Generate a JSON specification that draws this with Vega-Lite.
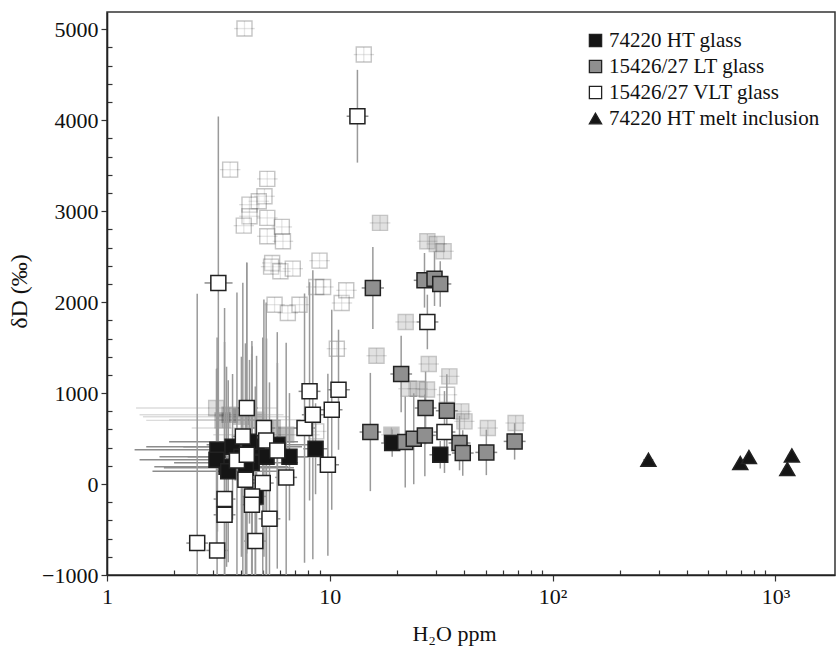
{
  "$schema": "https://vega.github.io/schema/vega-lite/v6.json",
  "width": 728,
  "height": 563,
  "autosize": {"type": "none"},
  "padding": {"left": 107, "top": 12, "right": 1, "bottom": 72},
  "background": "white",
  "config": {
    "view": {"stroke": "#333", "strokeWidth": 1.5},
    "font": "Liberation Serif"
  },
  "datasets": {
    "glass": [
      {"sample": "74220 HT glass", "set": "corrected", "h2o": 3.13, "dD": 377, "err": 900, "lo": 1.33, "hi": 6.0},
      {"sample": "74220 HT glass", "set": "corrected", "h2o": 3.44, "dD": 190, "err": 1100, "lo": 1.63, "hi": 6.5},
      {"sample": "74220 HT glass", "set": "corrected", "h2o": 3.66, "dD": 410, "err": 800, "lo": 1.5, "hi": 6.6},
      {"sample": "74220 HT glass", "set": "corrected", "h2o": 4.46, "dD": 234, "err": 1200, "lo": 2.0, "hi": 7.2},
      {"sample": "74220 HT glass", "set": "corrected", "h2o": 4.69, "dD": 410, "err": 1000, "lo": 2.2, "hi": 7.5},
      {"sample": "74220 HT glass", "set": "corrected", "h2o": 5.2, "dD": 300, "err": 1300, "lo": 2.3, "hi": 8.0},
      {"sample": "74220 HT glass", "set": "corrected", "h2o": 5.82, "dD": 432, "err": 900, "lo": 2.8, "hi": 8.6},
      {"sample": "74220 HT glass", "set": "corrected", "h2o": 6.59, "dD": 300, "err": 700, "lo": 3.5, "hi": 9.2},
      {"sample": "74220 HT glass", "set": "corrected", "h2o": 4.01, "dD": 300, "err": 1100, "lo": 1.72, "hi": 6.8},
      {"sample": "74220 HT glass", "set": "corrected", "h2o": 3.1, "dD": 267, "err": 1000, "lo": 1.4, "hi": 5.5},
      {"sample": "74220 HT glass", "set": "corrected", "h2o": 4.36, "dD": 465, "err": 900, "lo": 1.9, "hi": 7.2},
      {"sample": "74220 HT glass", "set": "corrected", "h2o": 3.5, "dD": 140, "err": 1000, "lo": 1.6, "hi": 6.2},
      {"sample": "74220 HT glass", "set": "corrected", "h2o": 4.2, "dD": 180, "err": 1100, "lo": 1.8, "hi": 6.9},
      {"sample": "74220 HT glass", "set": "corrected", "h2o": 8.63, "dD": 388, "err": 500, "lo": 7.6, "hi": 9.8},
      {"sample": "74220 HT glass", "set": "corrected", "h2o": 4.64, "dD": -136, "err": 1000, "lo": 4.15, "hi": 5.2},
      {"sample": "74220 HT glass", "set": "corrected", "h2o": 19.05, "dD": 451, "err": 150, "lo": 17.0, "hi": 21.3},
      {"sample": "74220 HT glass", "set": "corrected", "h2o": 31.3, "dD": 322, "err": 150, "lo": 28.0, "hi": 35.0},

      {"sample": "15426/27 LT glass", "set": "corrected", "h2o": 15.6, "dD": 2156, "err": 450, "lo": 13.9, "hi": 17.5},
      {"sample": "15426/27 LT glass", "set": "corrected", "h2o": 26.6, "dD": 2240, "err": 300, "lo": 23.8, "hi": 29.8},
      {"sample": "15426/27 LT glass", "set": "corrected", "h2o": 29.5, "dD": 2258, "err": 300, "lo": 26.3, "hi": 33.0},
      {"sample": "15426/27 LT glass", "set": "corrected", "h2o": 31.3, "dD": 2200, "err": 250, "lo": 27.9, "hi": 35.1},
      {"sample": "15426/27 LT glass", "set": "corrected", "h2o": 20.9, "dD": 1210, "err": 420, "lo": 18.7, "hi": 23.4},
      {"sample": "15426/27 LT glass", "set": "corrected", "h2o": 15.2, "dD": 572, "err": 650, "lo": 13.6, "hi": 17.0},
      {"sample": "15426/27 LT glass", "set": "corrected", "h2o": 26.9, "dD": 836, "err": 400, "lo": 24.0, "hi": 30.1},
      {"sample": "15426/27 LT glass", "set": "corrected", "h2o": 33.5, "dD": 806, "err": 400, "lo": 29.9, "hi": 37.5},
      {"sample": "15426/27 LT glass", "set": "corrected", "h2o": 21.8, "dD": 462, "err": 500, "lo": 19.5, "hi": 24.4},
      {"sample": "15426/27 LT glass", "set": "corrected", "h2o": 23.8, "dD": 498, "err": 500, "lo": 21.3, "hi": 26.7},
      {"sample": "15426/27 LT glass", "set": "corrected", "h2o": 26.7, "dD": 535, "err": 450, "lo": 23.8, "hi": 29.9},
      {"sample": "15426/27 LT glass", "set": "corrected", "h2o": 38.2, "dD": 451, "err": 300, "lo": 34.1, "hi": 42.8},
      {"sample": "15426/27 LT glass", "set": "corrected", "h2o": 39.5, "dD": 341, "err": 250, "lo": 35.3, "hi": 44.2},
      {"sample": "15426/27 LT glass", "set": "corrected", "h2o": 50.4, "dD": 348, "err": 250, "lo": 45.0, "hi": 56.4},
      {"sample": "15426/27 LT glass", "set": "corrected", "h2o": 67.5, "dD": 469, "err": 200, "lo": 60.3, "hi": 75.6},

      {"sample": "15426/27 VLT glass", "set": "corrected", "h2o": 3.83, "dD": 260, "err": 1845, "lo": 3.42, "hi": 4.29},
      {"sample": "15426/27 VLT glass", "set": "corrected", "h2o": 4.24, "dD": 322, "err": 2110, "lo": 3.79, "hi": 4.75},
      {"sample": "15426/27 VLT glass", "set": "corrected", "h2o": 4.07, "dD": 524, "err": 1690, "lo": 3.63, "hi": 4.56},
      {"sample": "15426/27 VLT glass", "set": "corrected", "h2o": 4.24, "dD": 836, "err": 1600, "lo": 3.79, "hi": 4.75},
      {"sample": "15426/27 VLT glass", "set": "corrected", "h2o": 5.06, "dD": 616, "err": 1414, "lo": 4.52, "hi": 5.67},
      {"sample": "15426/27 VLT glass", "set": "corrected", "h2o": 5.18, "dD": 480, "err": 1516, "lo": 4.63, "hi": 5.8},
      {"sample": "15426/27 VLT glass", "set": "corrected", "h2o": 5.81, "dD": 370, "err": 1300, "lo": 5.19, "hi": 6.51},
      {"sample": "15426/27 VLT glass", "set": "corrected", "h2o": 6.37, "dD": 73, "err": 1480, "lo": 5.69, "hi": 7.13},
      {"sample": "15426/27 VLT glass", "set": "corrected", "h2o": 4.18, "dD": 47, "err": 1500, "lo": 3.73, "hi": 4.68},
      {"sample": "15426/27 VLT glass", "set": "corrected", "h2o": 5.0, "dD": 11, "err": 1600, "lo": 4.46, "hi": 5.6},
      {"sample": "15426/27 VLT glass", "set": "corrected", "h2o": 4.48, "dD": -136, "err": 1650, "lo": 4.0, "hi": 5.02},
      {"sample": "15426/27 VLT glass", "set": "corrected", "h2o": 4.47, "dD": -228, "err": 1800, "lo": 3.99, "hi": 5.01},
      {"sample": "15426/27 VLT glass", "set": "corrected", "h2o": 3.37, "dD": -165, "err": 2100, "lo": 3.01, "hi": 3.77},
      {"sample": "15426/27 VLT glass", "set": "corrected", "h2o": 3.37, "dD": -338, "err": 1900, "lo": 3.01, "hi": 3.77},
      {"sample": "15426/27 VLT glass", "set": "corrected", "h2o": 5.36, "dD": -382, "err": 1500, "lo": 4.79, "hi": 6.0},
      {"sample": "15426/27 VLT glass", "set": "corrected", "h2o": 2.54, "dD": -649, "err": 2740, "lo": 2.27, "hi": 2.84},
      {"sample": "15426/27 VLT glass", "set": "corrected", "h2o": 3.12, "dD": -730, "err": 2340, "lo": 2.79, "hi": 3.49},
      {"sample": "15426/27 VLT glass", "set": "corrected", "h2o": 4.63, "dD": -627, "err": 1700, "lo": 4.13, "hi": 5.19},
      {"sample": "15426/27 VLT glass", "set": "corrected", "h2o": 7.7, "dD": 616, "err": 1480, "lo": 6.88, "hi": 8.62},
      {"sample": "15426/27 VLT glass", "set": "corrected", "h2o": 8.39, "dD": 762, "err": 1590, "lo": 7.49, "hi": 9.4},
      {"sample": "15426/27 VLT glass", "set": "corrected", "h2o": 8.11, "dD": 1019, "err": 1200, "lo": 7.24, "hi": 9.08},
      {"sample": "15426/27 VLT glass", "set": "corrected", "h2o": 10.2, "dD": 817, "err": 1100, "lo": 9.11, "hi": 11.4},
      {"sample": "15426/27 VLT glass", "set": "corrected", "h2o": 10.94, "dD": 1037, "err": 660, "lo": 9.77, "hi": 12.3},
      {"sample": "15426/27 VLT glass", "set": "corrected", "h2o": 9.8, "dD": 212, "err": 1000, "lo": 8.75, "hi": 11.0},
      {"sample": "15426/27 VLT glass", "set": "corrected", "h2o": 3.16, "dD": 2211, "err": 1830, "lo": 2.74, "hi": 3.66},
      {"sample": "15426/27 VLT glass", "set": "corrected", "h2o": 13.3, "dD": 4044, "err": 510, "lo": 11.9, "hi": 14.9},
      {"sample": "15426/27 VLT glass", "set": "corrected", "h2o": 27.4, "dD": 1782, "err": 300, "lo": 24.5, "hi": 30.7},
      {"sample": "15426/27 VLT glass", "set": "corrected", "h2o": 32.7, "dD": 572, "err": 450, "lo": 29.2, "hi": 36.6},

      {"sample": "74220 HT melt inclusion", "set": "corrected", "h2o": 269, "dD": 267, "err": 60, "lo": 255, "hi": 283},
      {"sample": "74220 HT melt inclusion", "set": "corrected", "h2o": 695, "dD": 231, "err": 60, "lo": 665, "hi": 725},
      {"sample": "74220 HT melt inclusion", "set": "corrected", "h2o": 760, "dD": 297, "err": 60, "lo": 730, "hi": 790},
      {"sample": "74220 HT melt inclusion", "set": "corrected", "h2o": 1185, "dD": 315, "err": 60, "lo": 1135, "hi": 1235},
      {"sample": "74220 HT melt inclusion", "set": "corrected", "h2o": 1130, "dD": 165, "err": 60, "lo": 1080, "hi": 1180},

      {"sample": "15426/27 VLT glass", "set": "uncorrected", "h2o": 4.14, "dD": 5008, "err": 80, "lo": 3.72, "hi": 4.6},
      {"sample": "15426/27 VLT glass", "set": "uncorrected", "h2o": 14.2, "dD": 4722, "err": 80, "lo": 12.8, "hi": 15.8},
      {"sample": "15426/27 VLT glass", "set": "uncorrected", "h2o": 3.57, "dD": 3457, "err": 80, "lo": 3.21, "hi": 3.97},
      {"sample": "15426/27 VLT glass", "set": "uncorrected", "h2o": 5.24, "dD": 3355, "err": 80, "lo": 4.71, "hi": 5.83},
      {"sample": "15426/27 VLT glass", "set": "uncorrected", "h2o": 5.09, "dD": 3164, "err": 80, "lo": 4.58, "hi": 5.66},
      {"sample": "15426/27 VLT glass", "set": "uncorrected", "h2o": 4.8, "dD": 3109, "err": 80, "lo": 4.32, "hi": 5.34},
      {"sample": "15426/27 VLT glass", "set": "uncorrected", "h2o": 4.36, "dD": 3072, "err": 80, "lo": 3.92, "hi": 4.85},
      {"sample": "15426/27 VLT glass", "set": "uncorrected", "h2o": 4.36, "dD": 2944, "err": 80, "lo": 3.92, "hi": 4.85},
      {"sample": "15426/27 VLT glass", "set": "uncorrected", "h2o": 5.24, "dD": 2926, "err": 80, "lo": 4.71, "hi": 5.83},
      {"sample": "15426/27 VLT glass", "set": "uncorrected", "h2o": 4.11, "dD": 2841, "err": 80, "lo": 3.7, "hi": 4.57},
      {"sample": "15426/27 VLT glass", "set": "uncorrected", "h2o": 6.09, "dD": 2827, "err": 80, "lo": 5.48, "hi": 6.77},
      {"sample": "15426/27 VLT glass", "set": "uncorrected", "h2o": 5.24, "dD": 2724, "err": 80, "lo": 4.71, "hi": 5.83},
      {"sample": "15426/27 VLT glass", "set": "uncorrected", "h2o": 6.16, "dD": 2669, "err": 80, "lo": 5.54, "hi": 6.85},
      {"sample": "15426/27 VLT glass", "set": "uncorrected", "h2o": 5.51, "dD": 2431, "err": 80, "lo": 4.96, "hi": 6.13},
      {"sample": "15426/27 VLT glass", "set": "uncorrected", "h2o": 5.45, "dD": 2390, "err": 80, "lo": 4.9, "hi": 6.06},
      {"sample": "15426/27 VLT glass", "set": "uncorrected", "h2o": 6.0, "dD": 2339, "err": 80, "lo": 5.4, "hi": 6.67},
      {"sample": "15426/27 VLT glass", "set": "uncorrected", "h2o": 6.82, "dD": 2368, "err": 80, "lo": 6.14, "hi": 7.58},
      {"sample": "15426/27 VLT glass", "set": "uncorrected", "h2o": 8.99, "dD": 2456, "err": 80, "lo": 8.09, "hi": 10.0},
      {"sample": "15426/27 VLT glass", "set": "uncorrected", "h2o": 8.69, "dD": 2167, "err": 80, "lo": 7.82, "hi": 9.66},
      {"sample": "15426/27 VLT glass", "set": "uncorrected", "h2o": 9.33, "dD": 2167, "err": 80, "lo": 8.4, "hi": 10.4},
      {"sample": "15426/27 VLT glass", "set": "uncorrected", "h2o": 5.65, "dD": 1972, "err": 80, "lo": 5.09, "hi": 6.28},
      {"sample": "15426/27 VLT glass", "set": "uncorrected", "h2o": 6.48, "dD": 1881, "err": 80, "lo": 5.83, "hi": 7.2},
      {"sample": "15426/27 VLT glass", "set": "uncorrected", "h2o": 7.31, "dD": 1972, "err": 80, "lo": 6.58, "hi": 8.13},
      {"sample": "15426/27 VLT glass", "set": "uncorrected", "h2o": 11.3, "dD": 1991, "err": 80, "lo": 10.2, "hi": 12.6},
      {"sample": "15426/27 VLT glass", "set": "uncorrected", "h2o": 11.85, "dD": 2130, "err": 80, "lo": 10.7, "hi": 13.2},
      {"sample": "15426/27 VLT glass", "set": "uncorrected", "h2o": 10.75, "dD": 1488, "err": 80, "lo": 9.68, "hi": 11.9},
      {"sample": "15426/27 VLT glass", "set": "uncorrected", "h2o": 33.6, "dD": 982, "err": 80, "lo": 30.2, "hi": 37.3},
      {"sample": "15426/27 VLT glass", "set": "uncorrected", "h2o": 8.69, "dD": 579, "err": 80, "lo": 7.82, "hi": 9.66},

      {"sample": "15426/27 LT glass", "set": "uncorrected", "h2o": 16.8, "dD": 2871, "err": 80, "lo": 15.1, "hi": 18.7},
      {"sample": "15426/27 LT glass", "set": "uncorrected", "h2o": 27.4, "dD": 2669, "err": 80, "lo": 24.7, "hi": 30.4},
      {"sample": "15426/27 LT glass", "set": "uncorrected", "h2o": 30.2, "dD": 2640, "err": 80, "lo": 27.2, "hi": 33.5},
      {"sample": "15426/27 LT glass", "set": "uncorrected", "h2o": 32.4, "dD": 2559, "err": 80, "lo": 29.2, "hi": 36.0},
      {"sample": "15426/27 LT glass", "set": "uncorrected", "h2o": 16.2, "dD": 1411, "err": 80, "lo": 14.6, "hi": 18.0},
      {"sample": "15426/27 LT glass", "set": "uncorrected", "h2o": 21.9, "dD": 1782, "err": 80, "lo": 19.7, "hi": 24.3},
      {"sample": "15426/27 LT glass", "set": "uncorrected", "h2o": 27.8, "dD": 1320, "err": 80, "lo": 25.0, "hi": 30.9},
      {"sample": "15426/27 LT glass", "set": "uncorrected", "h2o": 34.4, "dD": 1184, "err": 80, "lo": 31.0, "hi": 38.2},
      {"sample": "15426/27 LT glass", "set": "uncorrected", "h2o": 22.6, "dD": 1048, "err": 80, "lo": 20.3, "hi": 25.1},
      {"sample": "15426/27 LT glass", "set": "uncorrected", "h2o": 24.8, "dD": 1048, "err": 80, "lo": 22.3, "hi": 27.5},
      {"sample": "15426/27 LT glass", "set": "uncorrected", "h2o": 27.3, "dD": 1040, "err": 80, "lo": 24.6, "hi": 30.3},
      {"sample": "15426/27 LT glass", "set": "uncorrected", "h2o": 38.9, "dD": 799, "err": 80, "lo": 35.0, "hi": 43.2},
      {"sample": "15426/27 LT glass", "set": "uncorrected", "h2o": 40.2, "dD": 689, "err": 80, "lo": 36.2, "hi": 44.6},
      {"sample": "15426/27 LT glass", "set": "uncorrected", "h2o": 51.2, "dD": 616, "err": 80, "lo": 46.1, "hi": 56.8},
      {"sample": "15426/27 LT glass", "set": "uncorrected", "h2o": 68.2, "dD": 671, "err": 80, "lo": 61.4, "hi": 75.7},
      {"sample": "15426/27 LT glass", "set": "uncorrected", "h2o": 3.09, "dD": 836, "err": 80, "lo": 1.35, "hi": 5.8},

      {"sample": "74220 HT glass", "set": "uncorrected", "h2o": 3.55, "dD": 762, "err": 80, "lo": 1.4, "hi": 6.2},
      {"sample": "74220 HT glass", "set": "uncorrected", "h2o": 3.3, "dD": 700, "err": 80, "lo": 1.5, "hi": 6.0},
      {"sample": "74220 HT glass", "set": "uncorrected", "h2o": 4.0, "dD": 740, "err": 80, "lo": 1.45, "hi": 6.6},
      {"sample": "74220 HT glass", "set": "uncorrected", "h2o": 4.67, "dD": 707, "err": 80, "lo": 1.9, "hi": 7.4},
      {"sample": "74220 HT glass", "set": "uncorrected", "h2o": 5.55, "dD": 616, "err": 80, "lo": 2.4, "hi": 8.3},
      {"sample": "74220 HT glass", "set": "uncorrected", "h2o": 6.37, "dD": 542, "err": 80, "lo": 3.0, "hi": 9.0},
      {"sample": "74220 HT glass", "set": "uncorrected", "h2o": 18.9, "dD": 542, "err": 80, "lo": 17.0, "hi": 21.0}
    ]
  },
  "data": {"name": "glass"},
  "resolve": {"scale": {"fill": "independent", "shape": "independent"}},
  "layer": [
    {
      "transform": [{"filter": "datum.set === 'uncorrected'"}],
      "mark": {"type": "rule", "color": "#9a9a9a", "strokeWidth": 1.3, "opacity": 0.35},
      "encoding": {
        "x": {"field": "lo", "type": "quantitative", "scale": {"type": "log", "domain": [1, 1850], "nice": false, "clamp": true}, "title": "H₂O ppm"},
        "x2": {"field": "hi"},
        "y": {"field": "dD", "type": "quantitative", "scale": {"domain": [-1000, 5190], "nice": false, "zero": false, "clamp": true}, "title": "δD (‰)"}
      }
    },
    {
      "transform": [{"filter": "datum.set === 'uncorrected'"}],
      "mark": {"type": "errorbar", "ticks": false, "color": "#9a9a9a", "thickness": 1.3, "opacity": 0.35},
      "encoding": {
        "x": {"field": "h2o", "type": "quantitative", "title": "H₂O ppm"},
        "y": {"field": "dD", "type": "quantitative", "title": "δD (‰)"},
        "yError": {"field": "err"}
      }
    },
    {
      "transform": [{"filter": "datum.set === 'uncorrected'"}],
      "mark": {"type": "point", "filled": true, "size": 225, "stroke": "#222", "strokeWidth": 1.4, "opacity": 0.26},
      "encoding": {
        "x": {"field": "h2o", "type": "quantitative", "title": "H₂O ppm"},
        "y": {"field": "dD", "type": "quantitative", "title": "δD (‰)"},
        "fill": {
          "field": "sample", "type": "nominal", "legend": null,
          "scale": {
            "domain": ["74220 HT glass", "15426/27 LT glass", "15426/27 VLT glass", "74220 HT melt inclusion"],
            "range": ["#151515", "#8f8f8f", "#ffffff", "#151515"]
          }
        },
        "shape": {
          "field": "sample", "type": "nominal", "legend": null,
          "scale": {
            "domain": ["74220 HT glass", "15426/27 LT glass", "15426/27 VLT glass", "74220 HT melt inclusion"],
            "range": ["square", "square", "square", "triangle-up"]
          }
        }
      }
    },
    {
      "transform": [{"filter": "datum.set === 'corrected'"}],
      "mark": {"type": "rule", "color": "#8c8c8c", "strokeWidth": 1.5},
      "encoding": {
        "x": {"field": "lo", "type": "quantitative", "title": "H₂O ppm"},
        "x2": {"field": "hi"},
        "y": {"field": "dD", "type": "quantitative", "title": "δD (‰)"}
      }
    },
    {
      "transform": [{"filter": "datum.set === 'corrected'"}],
      "mark": {"type": "errorbar", "ticks": false, "color": "#9a9a9a", "thickness": 1.5},
      "encoding": {
        "x": {"field": "h2o", "type": "quantitative", "title": "H₂O ppm"},
        "y": {"field": "dD", "type": "quantitative", "title": "δD (‰)"},
        "yError": {"field": "err"}
      }
    },
    {
      "transform": [{"filter": "datum.set === 'corrected'"}],
      "mark": {"type": "point", "filled": true, "size": 225, "stroke": "#222", "strokeWidth": 1.5, "opacity": 1},
      "encoding": {
        "x": {
          "field": "h2o", "type": "quantitative", "title": "H₂O ppm",
          "axis": {
            "values": [1, 2, 3, 4, 5, 6, 7, 8, 9, 10, 20, 30, 40, 50, 60, 70, 80, 90, 100, 200, 300, 400, 500, 600, 700, 800, 900, 1000],
            "tickCount": 200,
            "labelExpr": "datum.value == 1 ? '1' : datum.value == 10 ? '10' : datum.value == 100 ? '10²' : datum.value == 1000 ? '10³' : ''",
            "tickSize": {"condition": {"test": "datum.value == 1 || datum.value == 10 || datum.value == 100 || datum.value == 1000", "value": 6}, "value": -5},
            "tickColor": "#333", "tickWidth": 1.2,
            "domainColor": "#222", "domainWidth": 1.6,
            "labelFont": "Liberation Serif", "labelFontSize": 22, "labelColor": "#111",
            "labelPadding": 5, "labelFlush": false, "labelOverlap": false,
            "grid": false,
            "titleFont": "Liberation Serif", "titleFontSize": 22, "titleFontWeight": "normal", "titleColor": "#111",
            "titleX": 347, "titleY": 65, "titleAlign": "center", "titleBaseline": "alphabetic"
          }
        },
        "y": {
          "field": "dD", "type": "quantitative", "title": "δD (‰)",
          "axis": {
            "values": [-1000, -800, -600, -400, -200, 0, 200, 400, 600, 800, 1000, 1200, 1400, 1600, 1800, 2000, 2200, 2400, 2600, 2800, 3000, 3200, 3400, 3600, 3800, 4000, 4200, 4400, 4600, 4800, 5000],
            "tickCount": 200,
            "format": "d",
            "labelExpr": "datum.value % 1000 === 0 ? datum.label : ''",
            "tickSize": {"condition": {"test": "datum.value % 1000 === 0", "value": 6}, "value": -5},
            "tickColor": "#333", "tickWidth": 1.2,
            "domainColor": "#222", "domainWidth": 1.6,
            "labelFont": "Liberation Serif", "labelFontSize": 22, "labelColor": "#111",
            "labelPadding": 3, "labelOverlap": false, "labelFlush": false,
            "grid": false,
            "titleFont": "Liberation Serif", "titleFontSize": 24, "titleFontWeight": "normal", "titleColor": "#111",
            "titleX": -88, "titleY": 279, "titleAlign": "center", "titleBaseline": "middle", "titleAngle": -90
          }
        },
        "fill": {
          "field": "sample", "type": "nominal",
          "scale": {
            "domain": ["74220 HT glass", "15426/27 LT glass", "15426/27 VLT glass", "74220 HT melt inclusion"],
            "range": ["#151515", "#8f8f8f", "#ffffff", "#151515"]
          },
          "legend": {
            "orient": "none", "legendX": 478, "legendY": 18, "title": null,
            "labelFont": "Liberation Serif", "labelFontSize": 21, "labelColor": "#111", "labelLimit": 0,
            "symbolSize": 150, "symbolStrokeColor": "#222", "symbolStrokeWidth": 1.3, "symbolOpacity": 1,
            "rowPadding": 4, "labelOffset": 3, "padding": 0
          }
        },
        "shape": {
          "field": "sample", "type": "nominal",
          "scale": {
            "domain": ["74220 HT glass", "15426/27 LT glass", "15426/27 VLT glass", "74220 HT melt inclusion"],
            "range": ["square", "square", "square", "triangle-up"]
          }
        }
      }
    }
  ]
}
